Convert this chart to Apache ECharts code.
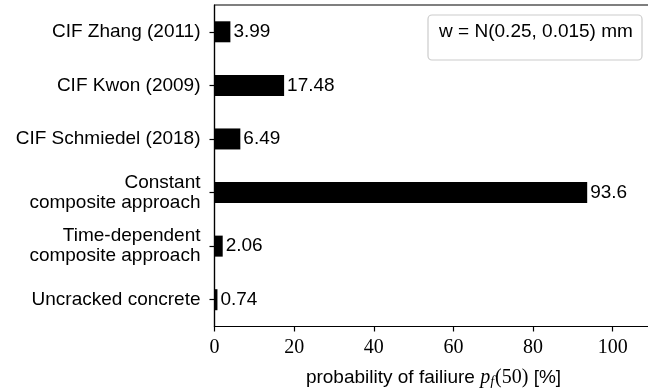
<!DOCTYPE html>
<html>
<head>
<meta charset="utf-8">
<script src="https://cdn.jsdelivr.net/npm/echarts@6/dist/echarts.min.js"></script>
<style>html,body{margin:0;padding:0;background:#fff;}#c{width:648px;height:388px;}</style>
</head>
<body>
<div id="c"></div>
<script>
const categories = ['CIF Zhang (2011)', 'CIF Kwon (2009)', 'CIF Schmiedel (2018)', 'Constant\ncomposite approach', 'Time-dependent\ncomposite approach', 'Uncracked concrete'];
const values = [3.99, 17.48, 6.49, 93.6, 2.06, 0.74];
const xTicks = [0, 20, 40, 60, 80, 100];
const legendText = 'w = N(0.25, 0.015) mm';

const SANS = '"Liberation Sans", Arial, sans-serif';
const SERIF = '"Liberation Serif", "DejaVu Serif", serif';

const chart = echarts.init(document.getElementById('c'), null, {renderer: 'canvas'});
chart.setOption({
  animation: false,
  backgroundColor: '#fff',
  grid: {left: 214.5, top: 5, width: 438, height: 321.5, show: true, borderColor: '#000', borderWidth: 1.2,
         backgroundColor: 'transparent', containLabel: false, outerBoundsMode: 'none'},
  xAxis: {
    type: 'value', min: 0, max: 110, interval: 20,
    axisLine: {show: true, lineStyle: {color: '#000', width: 1.2}},
    axisTick: {show: true, length: 5, lineStyle: {color: '#000', width: 1.2}},
    splitLine: {show: false},
    axisLabel: {
      color: '#000', fontFamily: SERIF, fontSize: 20, margin: 11,
      formatter: v => xTicks.includes(v) ? String(v) : ''
    },
    name: '{a|probability of failiure }{m|p}{s|f}{n|(50)}{a| [%]}',
    nameLocation: 'middle', nameGap: 39,
    nameTextStyle: {
      rich: {
        a: {fontFamily: SANS, fontSize: 19, color: '#000'},
        m: {fontFamily: SERIF, fontStyle: 'italic', fontSize: 20, color: '#000'},
        s: {fontFamily: SERIF, fontStyle: 'italic', fontSize: 14, color: '#000', padding: [10, 1, 0, 0]},
        n: {fontFamily: SERIF, fontSize: 20, color: '#000'}
      }
    }
  },
  yAxis: {
    type: 'category', data: categories, inverse: true,
    axisLine: {show: true, lineStyle: {color: '#000', width: 1.2}},
    axisTick: {show: true, alignWithLabel: true, length: 5, lineStyle: {color: '#000', width: 1.2}},
    axisLabel: {color: '#000', fontFamily: SANS, fontSize: 19, lineHeight: 20, margin: 14, align: 'right'},
    splitLine: {show: false}
  },
  series: [{
    type: 'bar', data: values, barWidth: 21,
    itemStyle: {color: '#000'},
    label: {show: true, position: 'right', distance: 3, color: '#000', fontFamily: SANS, fontSize: 19}
  }],
  graphic: [
    {type: 'rect', shape: {x: 428, y: 15, width: 214, height: 45, r: 4}, style: {fill: '#fff', stroke: '#cccccc', lineWidth: 1.2}, z: 10},
    {type: 'text', x: 536, y: 32, style: {text: legendText, fontFamily: SANS, fontSize: 19, fill: '#000', align: 'center', verticalAlign: 'middle'}, z: 11}
  ]
});
</script>
</body>
</html>
